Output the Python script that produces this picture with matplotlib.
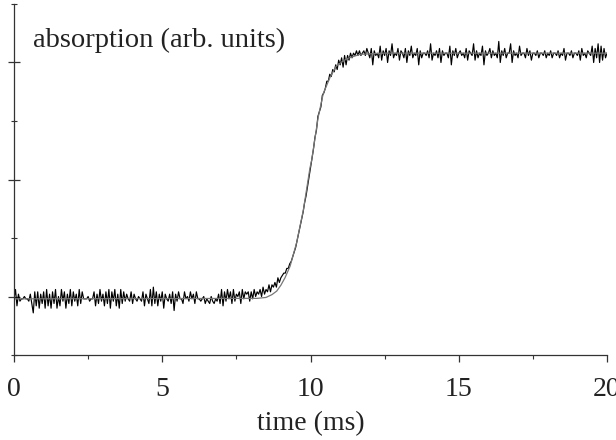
import numpy as np
import matplotlib
matplotlib.use('Agg')
from matplotlib import pyplot as plt
from matplotlib.ticker import MultipleLocator

plt.rcParams['font.family'] = ['Liberation Serif', 'DejaVu Serif']

# measured trace, one sample every 0.05 ms from 0 to 20 ms
t_step = 0.05
signal = [
    -0.01, 0.03, -0.04, 0.01, -0.02, -0.01, -0.01, 0.00, -0.01, -0.01, -0.02, 0.01, -0.03, -0.07, 0.02, -0.04, 0.02, -0.05, 0.01, -0.03,
    0.02, -0.05, 0.03, -0.04, 0.01, -0.05, 0.02, -0.03, 0.03, -0.05, 0.00, -0.04, 0.03, -0.02, 0.02, -0.05, 0.01, -0.03, 0.03, -0.04,
    0.02, -0.02, 0.01, -0.04, 0.03, -0.03, 0.02, -0.01, -0.01, -0.01, 0.00, -0.02, -0.01, -0.01, 0.02, -0.04, 0.01, -0.03, 0.03, -0.02,
    0.01, -0.04, 0.02, -0.03, 0.03, -0.05, 0.02, -0.02, 0.03, -0.04, 0.01, -0.05, 0.03, -0.03, 0.02, -0.02, 0.01, -0.01, -0.02, 0.02,
    -0.03, 0.01, -0.01, -0.02, 0.00, -0.01, -0.02, 0.02, -0.04, 0.01, -0.01, -0.03, 0.03, -0.04, 0.04, -0.03, 0.02, -0.04, 0.01, -0.02,
    0.02, -0.05, 0.01, -0.01, -0.02, 0.01, -0.03, 0.02, -0.06, 0.01, -0.02, 0.02, -0.01, -0.01, -0.03, 0.02, -0.01, 0.00, -0.02, 0.02,
    -0.01, 0.01, -0.03, 0.02, -0.01, -0.01, -0.02, -0.01, 0.00, -0.03, -0.01, -0.02, -0.03, 0.00, -0.02, -0.03, -0.01, -0.02, 0.01, -0.03,
    0.03, -0.04, 0.02, -0.02, 0.03, -0.01, 0.02, -0.03, 0.03, -0.02, 0.01, 0.00, 0.02, -0.03, 0.03, -0.01, 0.02, 0.01, 0.02, -0.02,
    0.02, -0.01, 0.03, 0.00, 0.02, 0.01, 0.03, 0.00, 0.04, 0.01, 0.03, 0.02, 0.05, 0.02, 0.05, 0.04, 0.06, 0.04, 0.08, 0.06,
    0.08, 0.09, 0.10, 0.10, 0.12, 0.12, 0.14, 0.15, 0.17, 0.19, 0.21, 0.24, 0.27, 0.30, 0.33, 0.36, 0.40, 0.43, 0.47, 0.51,
    0.55, 0.59, 0.63, 0.68, 0.71, 0.77, 0.79, 0.81, 0.86, 0.87, 0.89, 0.92, 0.92, 0.95, 0.94, 0.97, 0.96, 0.99, 0.97, 1.01,
    0.99, 1.02, 0.98, 1.03, 0.99, 1.03, 1.01, 1.04, 1.02, 1.04, 1.03, 1.05, 1.03, 1.05, 1.03, 1.04, 1.05, 1.03, 1.06, 1.04,
    1.02, 1.06, 0.99, 1.05, 1.03, 1.04, 1.02, 1.07, 1.01, 1.05, 1.03, 1.06, 1.00, 1.05, 1.03, 1.08, 1.02, 1.04, 1.03, 1.06,
    1.01, 1.05, 1.04, 1.02, 1.06, 1.00, 1.05, 1.03, 1.07, 1.02, 1.04, 1.03, 1.06, 0.99, 1.05, 1.02, 1.04, 1.04, 1.03, 1.05,
    1.02, 1.08, 1.01, 1.04, 1.03, 1.05, 1.02, 1.06, 1.00, 1.05, 1.03, 1.04, 1.04, 1.02, 1.07, 0.99, 1.05, 1.03, 1.06, 1.02,
    1.04, 1.05, 1.03, 1.04, 1.02, 1.06, 1.01, 1.05, 1.04, 1.03, 1.08, 1.01, 1.05, 1.02, 1.04, 1.03, 1.07, 0.99, 1.05, 1.03,
    1.04, 1.06, 1.02, 1.05, 1.03, 1.04, 1.02, 1.09, 1.00, 1.05, 1.03, 1.06, 1.02, 1.04, 1.04, 1.08, 1.00, 1.05, 1.03, 1.04,
    1.02, 1.07, 1.03, 1.04, 1.04, 1.02, 1.06, 1.03, 1.05, 1.01, 1.04, 1.04, 1.03, 1.05, 1.02, 1.04, 1.04, 1.03, 1.05, 1.02,
    1.04, 1.03, 1.05, 1.02, 1.04, 1.04, 1.03, 1.05, 1.02, 1.04, 1.03, 1.06, 1.01, 1.04, 1.04, 1.03, 1.05, 1.02, 1.04, 1.04,
    1.03, 1.05, 1.01, 1.06, 1.03, 1.04, 1.02, 1.05, 1.04, 1.03, 1.07, 1.00, 1.06, 1.02, 1.08, 1.00, 1.07, 1.01, 1.06, 1.02,
    1.04,
]
time = np.arange(len(signal)) * t_step

# fitted curve
fit_t = [0, 8.2, 8.5, 8.7, 8.86, 9.0, 9.14, 9.31, 9.53, 9.76, 9.98, 10.04, 10.26, 10.43,
         10.66, 10.88, 11.22, 11.67, 12.5, 20]
fit_v = [-0.01, -0.008, -0.004, 0.008, 0.023, 0.048, 0.08, 0.129, 0.229, 0.37, 0.548, 0.583,
         0.767, 0.867, 0.937, 0.987, 1.016, 1.035, 1.04, 1.04]

fig = plt.figure(figsize=(6.16, 4.4), dpi=100)
ax = fig.add_axes([14 / 616, 85 / 440, 593 / 616, 351 / 440])

ax.plot(time, signal, color='black', lw=0.85)
ax.plot(fit_t, fit_v, color='#777777', lw=0.9)

ax.set_xlim(0, 20)
ax.set_ylim(-0.25, 1.25)

for s in ['top', 'right']:
    ax.spines[s].set_visible(False)
for s in ['left', 'bottom']:
    ax.spines[s].set_color('#333333')
    ax.spines[s].set_linewidth(0.9)

ax.xaxis.set_major_locator(MultipleLocator(5))
ax.xaxis.set_minor_locator(MultipleLocator(2.5))
ax.yaxis.set_major_locator(MultipleLocator(0.5))
ax.yaxis.set_minor_locator(MultipleLocator(0.25))

ax.tick_params(axis='x', which='major', direction='out', length=5, width=0.9,
               color='#333333', labelsize=20, pad=10.5, labelcolor='#222222')
ax.tick_params(axis='x', which='minor', direction='out', length=3, width=0.8, color='#333333')
ax.tick_params(axis='y', which='major', direction='inout', length=9, width=0.9,
               color='#333333', labelleft=False)
ax.tick_params(axis='y', which='minor', direction='inout', length=5, width=0.8, color='#333333')

ax.set_xlabel('time (ms)', fontsize=20, color='#222222', labelpad=7)
ax.text(0.032, 0.877, 'absorption (arb. units)', transform=ax.transAxes,
        fontsize=20.5, color='#222222', va='baseline', ha='left')

fig.savefig('out.png', dpi=100)
